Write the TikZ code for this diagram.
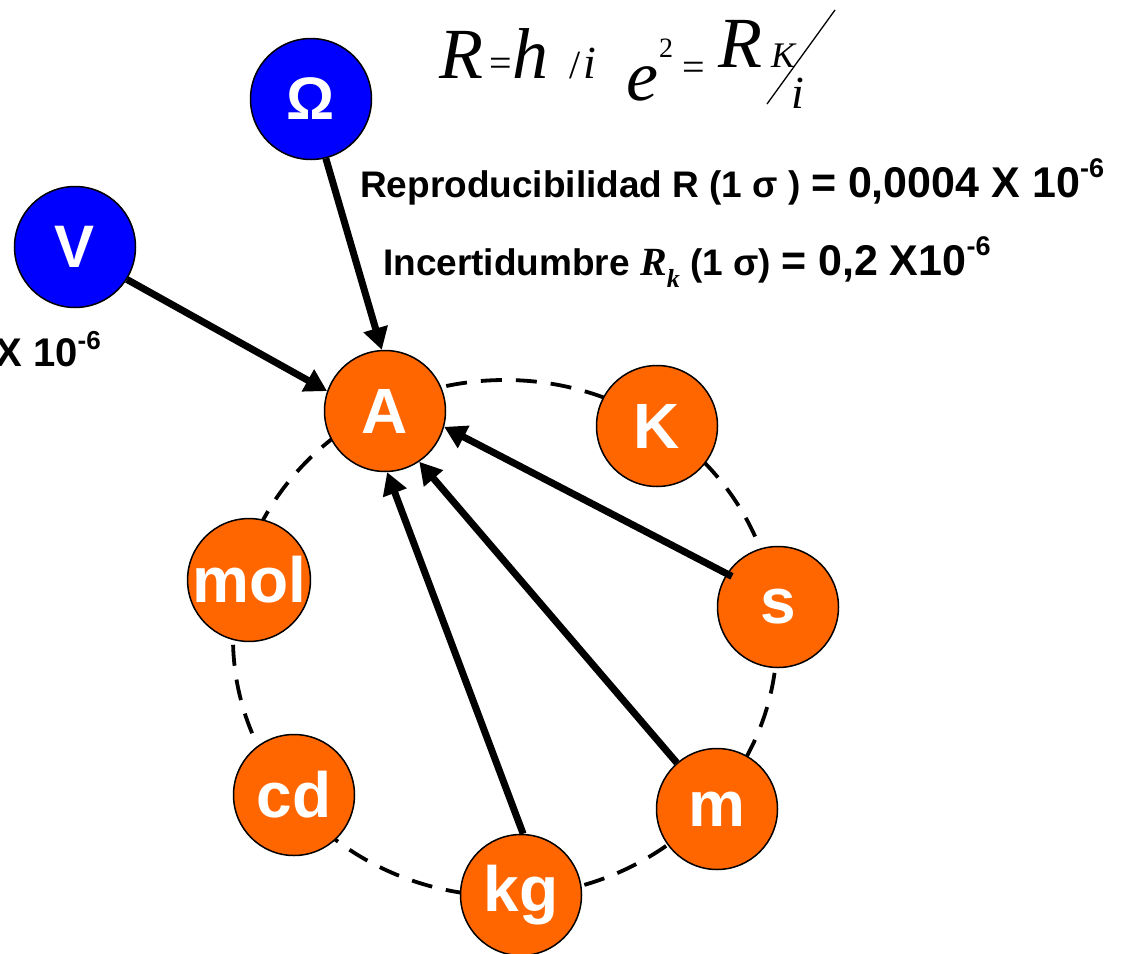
\documentclass[tikz,border=0pt]{standalone}
\usepackage{fontspec}
\setmainfont{Liberation Sans}
\newfontfamily\serifx{Liberation Serif}
\usetikzlibrary{arrows.meta}
\definecolor{unitorange}{RGB}{255,102,0}
\definecolor{unitblue}{RGB}{0,0,255}
\newcommand\fs[1]{\fontsize{#1}{#1}\selectfont}
\newcommand\supx[2]{\raisebox{#1}{\fs{#2}-6}}
\tikzset{
  unit/.style={circle, draw=black, line width=1.5pt, fill=unitorange, text=white,
    font=\bfseries\fs{64}, minimum size=121pt, inner sep=0pt},
  bunit/.style={unit, fill=unitblue, font=\bfseries\fs{60}},
  link/.style={line width=7pt, -{Triangle[length=22pt,width=24pt]}},
  ring/.style={line width=3.8pt, dash pattern=on 21pt off 14pt},
  formula/.style={inner sep=0pt, anchor=base west, font=\serifx\itshape\fs{72}},
  formsmall/.style={inner sep=0pt, anchor=base west, font=\serifx\fs{40}},
  txt/.style={inner sep=0pt, anchor=base west, font=\bfseries}
}
\begin{document}
\begin{tikzpicture}[x=1pt,y=-1pt]
\useasboundingbox (0,0) rectangle (1127,953);
% dashed ring behind nodes
\draw[ring] (505,638) ellipse [x radius=272, y radius=258];
% nodes
\node[unit] (A) at (385,411) {A};
\node[unit] (K) at (657,426) {K};
\node[unit] (s) at (778,607) {s};
\node[unit] (m) at (717,809) {m};
\node[unit] (kg) at (521,895) {kg};
\node[unit] (cd) at (294,795) {cd};
\node[unit] (mol) at (249,580) {mol};
\node[bunit] (V) at (75,247) {V};
\node[bunit] (O) at (311,99) {Ω};
% connectors
\draw[link] (V.-32) -- (A.161);
\draw[link] (O.-76) -- (A.93);
\draw[link, shorten <=-6pt] (s.147) -- (A.-15);
\draw[link] (m.131) -- (A.-56);
\draw[link] (kg.88) -- (A.-88);
% formula
\node[formula] (f1) at (439,78) {R};
\node[formsmall] (f2) at (489,76) {=};
\node[formula] (f3) at (512,78) {h};
\node[formsmall] (f4) at (569,78) {/};
\node[formula, font=\serifx\itshape\fs{46}] (f5) at (583,78) {i};
\node[formula] (f6) at (626,100) {e};
\node[formsmall, font=\serifx\fs{28}] (f7) at (659,57) {2};
\node[formsmall] (f8) at (682,80) {=};
\node[formula] (f9) at (718,67) {R};
\node[formula, font=\serifx\itshape\fs{36}] (f10) at (771,67) {K};
\node[formula, font=\serifx\itshape\fs{46}] (f11) at (791,108) {i};
\draw[line width=1.3pt] (767,104) -- (835,10);
% texts
\node[txt] (t1) at (360,197) {\fs{37}Reproducibilidad R (1 σ ) \fs{43}= 0,0004 X 10\supx{0.45em}{27}};
\node[txt] (t2) at (383,275) {\fs{37}Incertidumbre {\serifx\bfseries\itshape\fs{40}R\raisebox{-0.3em}{\fs{26}k}} (1 σ) \fs{43}= 0,2 X10\supx{0.45em}{27}};
\node[txt, anchor=base east] (t3) at (101,366) {\fs{40}X 10\supx{0.42em}{26}};
\end{tikzpicture}
\end{document}
